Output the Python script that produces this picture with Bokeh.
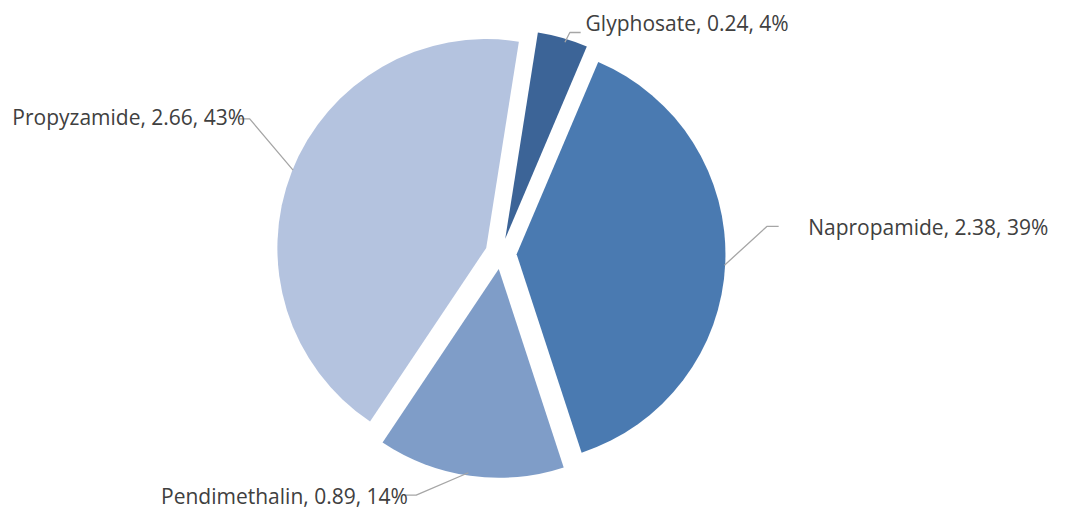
import math
from bokeh.plotting import figure
from bokeh.models import Range1d, ColumnDataSource
from bokeh.core.properties import value
from bokeh.embed import file_html
from bokeh.resources import INLINE

# ---- data ----
categories = ["Glyphosate", "Napropamide", "Pendimethalin", "Propyzamide"]
values = [0.24, 2.38, 0.89, 2.66]
colors = ["#3C6497", "#4A7AB1", "#7F9DC8", "#B4C3DF"]

# ---- layout (reference pixel coordinates, y down) ----
W, H = 1067, 528
cx, cy = 508, 261          # pie centre
R = 212                    # radius
explode = 16               # explosion distance
first_angle = 9            # degrees clockwise from 12 o'clock
label_pos = [(594, 23), (820, 234), (163, 511), (12, 120)]   # left x, baseline y
leaders = [
    [(573, 43), (578, 33), (589, 33)],
    [(735, 273), (778, 233), (790, 233)],
    [(475, 487), (422, 510), (410, 510)],
    [(297, 175), (253, 122), (243, 122)],
]

p = figure(width=W - 16, height=H - 16, output_backend="svg", toolbar_location=None,
           x_range=Range1d(0, W), y_range=Range1d(0, H),
           min_border=0, outline_line_color=None)
p.axis.visible = False
p.grid.visible = False
p.background_fill_color = "white"
p.border_fill_color = "white"

total = sum(values)
xs, ys, sa, ea = [], [], [], []
cum = first_angle
for v in values:
    span = v / total * 360
    t1, t2 = cum, cum + span
    mid = math.radians((t1 + t2) / 2)
    ox = cx + explode * math.sin(mid)
    oy = cy - explode * math.cos(mid)
    xs.append(ox)
    ys.append(H - oy)
    sa.append(math.radians(90 - t2))
    ea.append(math.radians(90 - t1))
    cum = t2

src = ColumnDataSource(dict(x=xs, y=ys, s=sa, e=ea, c=colors))
p.wedge(x="x", y="y", radius=R, start_angle="s", end_angle="e", direction="anticlock",
        fill_color="c", line_color=None, source=src)

for pts in leaders:
    p.line([q[0] for q in pts], [H - q[1] for q in pts], line_color="#A6A6A6", line_width=1.3)

texts = [f"{c}, {v:.2f}, {round(v / total * 100):d}%" for c, v in zip(categories, values)]
p.text(x=[q[0] for q in label_pos], y=[H - q[1] for q in label_pos], text=texts,
       text_font=value("Open Sans"), text_font_size="21px", text_color="#404040",
       text_align="left", text_baseline="alphabetic")

open("out.html", "w").write(file_html(p, INLINE))
